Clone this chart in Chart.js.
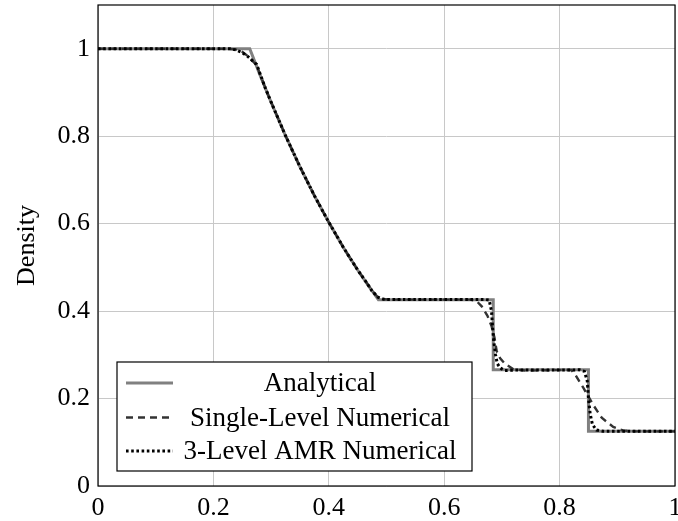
<!DOCTYPE html>
<html>
<head>
<meta charset="utf-8">
<script src="https://cdn.jsdelivr.net/npm/chart.js@4/dist/chart.umd.min.js"></script>
<style>
  html, body { margin: 0; padding: 0; background: #fff; }
  #wrap { width: 678px; height: 521px; position: relative; }
</style>
</head>
<body>
<div id="wrap"><canvas id="c" width="678" height="521"></canvas></div>
<script>
// Sod shock tube: density profiles
const analyticX   = [0, 0.263, 0.28, 0.30, 0.325, 0.35, 0.375, 0.40, 0.425, 0.45, 0.465, 0.486, 0.685, 0.685, 0.850, 0.850, 1.0];
const analyticRho = [1, 1, 0.9425, 0.8776, 0.801, 0.730, 0.664, 0.603, 0.546, 0.494, 0.465, 0.426, 0.426, 0.2656, 0.2656, 0.125, 0.125];

const singleX   = [0, 0.225, 0.24, 0.25, 0.26, 0.275, 0.29, 0.30, 0.325, 0.35, 0.375, 0.40, 0.425, 0.45, 0.465, 0.475, 0.485, 0.495, 0.51,
                   0.645, 0.656, 0.665, 0.675, 0.682, 0.687, 0.691, 0.697, 0.705, 0.72, 0.74,
                   0.82, 0.827, 0.841, 0.858, 0.873, 0.893, 0.91, 0.93, 1.0];
const singleRho = [1, 1, 0.998, 0.993, 0.983, 0.962, 0.91, 0.878, 0.801, 0.730, 0.664, 0.603, 0.546, 0.494, 0.466, 0.446, 0.432, 0.427, 0.4263,
                   0.4263, 0.423, 0.411, 0.389, 0.366, 0.34, 0.308, 0.292, 0.280, 0.267, 0.264,
                   0.2656, 0.255, 0.225, 0.186, 0.156, 0.135, 0.127, 0.125, 0.125];

const amrX   = [0, 0.229, 0.24, 0.25, 0.26, 0.275, 0.29, 0.30, 0.325, 0.35, 0.375, 0.40, 0.425, 0.45, 0.465, 0.475, 0.485, 0.495, 0.51,
                0.672, 0.678, 0.682, 0.684, 0.686, 0.689, 0.692, 0.697, 0.705, 0.72,
                0.835, 0.843, 0.848, 0.850, 0.853, 0.857, 0.864, 0.875, 1.0];
const amrRho = [1, 1, 0.997, 0.991, 0.982, 0.964, 0.91, 0.878, 0.801, 0.730, 0.664, 0.603, 0.546, 0.494, 0.466, 0.446, 0.432, 0.427, 0.4263,
                0.4263, 0.425, 0.40, 0.36, 0.33, 0.30, 0.28, 0.27, 0.264, 0.265,
                0.2656, 0.262, 0.24, 0.2, 0.165, 0.14, 0.128, 0.125, 0.125];

const seriesNames = ['Analytical', 'Single-Level Numerical', '3-Level AMR Numerical'];
const xTicks = [0, 0.2, 0.4, 0.6, 0.8, 1];
const yTicks = [0, 0.2, 0.4, 0.6, 0.8, 1];
const yTitle = 'Density';

const FONT = '"Liberation Serif", "Times New Roman", serif';
const pts = (xs, ys) => xs.map((x, i) => ({ x: x, y: ys[i] }));
const fmt = v => String(Math.round(v * 10) / 10);

// Frame around the plot area
const framePlugin = {
  id: 'frame',
  afterDatasetsDraw(chart) {
    const a = chart.chartArea, ctx = chart.ctx;
    ctx.save();
    ctx.strokeStyle = '#000';
    ctx.lineWidth = 1.2;
    ctx.strokeRect(a.left, a.top, a.right - a.left, a.bottom - a.top);
    ctx.restore();
  }
};

// Boxed legend in the lower-left of the plot
const boxLegendPlugin = {
  id: 'boxLegend',
  afterDraw(chart) {
    const ctx = chart.ctx;
    const bx = 117, by = 362, bw = 355, bh = 109;
    ctx.save();
    ctx.fillStyle = '#fff';
    ctx.fillRect(bx, by, bw, bh);
    ctx.strokeStyle = '#000';
    ctx.lineWidth = 1.2;
    ctx.strokeRect(bx, by, bw, bh);
    const rows = [383, 417.5, 451];
    chart.data.datasets.forEach((ds, i) => {
      const y = rows[i];
      ctx.beginPath();
      ctx.strokeStyle = ds.borderColor;
      ctx.lineWidth = ds.borderWidth;
      ctx.setLineDash(ds.borderDash || []);
      ctx.moveTo(126, y);
      ctx.lineTo(173, y);
      ctx.stroke();
      ctx.setLineDash([]);
      ctx.fillStyle = '#000';
      ctx.font = '27px ' + FONT;
      ctx.textAlign = 'center';
      ctx.textBaseline = 'middle';
      ctx.fillText(ds.label, 320, y + 1);
    });
    ctx.restore();
  }
};

new Chart(document.getElementById('c'), {
  type: 'line',
  data: {
    datasets: [
      { label: seriesNames[0], data: pts(analyticX, analyticRho), borderColor: '#808080', borderWidth: 3,
        pointRadius: 0, tension: 0, order: 3 },
      { label: seriesNames[1], data: pts(singleX, singleRho), borderColor: '#333333', borderWidth: 2.4,
        borderDash: [7, 5], pointRadius: 0, tension: 0, order: 2 },
      { label: seriesNames[2], data: pts(amrX, amrRho), borderColor: '#000', borderWidth: 3,
        borderDash: [2.6, 2.6], pointRadius: 0, tension: 0, order: 1 }
    ]
  },
  options: {
    responsive: false,
    animation: false,
    events: [],
    layout: { padding: { top: 5, right: 3, left: 0, bottom: 0 } },
    plugins: { legend: { display: false }, tooltip: { enabled: false } },
    scales: {
      x: {
        type: 'linear', min: 0, max: 1,
        afterBuildTicks: s => { s.ticks = xTicks.map(v => ({ value: v })); },
        afterFit: s => { s.height = 35; s.paddingLeft = 0; s.paddingRight = 0; },
        grid: { color: '#c8c8c8', lineWidth: 1, tickLength: 0, drawTicks: false },
        border: { display: false },
        ticks: { color: '#000', font: { family: FONT, size: 26 }, padding: 7, maxRotation: 0,
                 callback: v => fmt(v) }
      },
      y: {
        type: 'linear', min: 0, max: 1.1,
        afterBuildTicks: s => { s.ticks = yTicks.map(v => ({ value: v })); },
        afterFit: s => { s.width = 98; s.paddingTop = 0; s.paddingBottom = 0; },
        grid: { color: '#c8c8c8', lineWidth: 1, tickLength: 0, drawTicks: false },
        border: { display: false },
        title: { display: true, text: yTitle, color: '#000', font: { family: FONT, size: 26 }, padding: { top: 12, bottom: 4 } },
        ticks: { color: '#000', font: { family: FONT, size: 26 }, padding: 8,
                 callback: v => fmt(v) }
      }
    }
  },
  plugins: [framePlugin, boxLegendPlugin]
});
</script>
</body>
</html>
